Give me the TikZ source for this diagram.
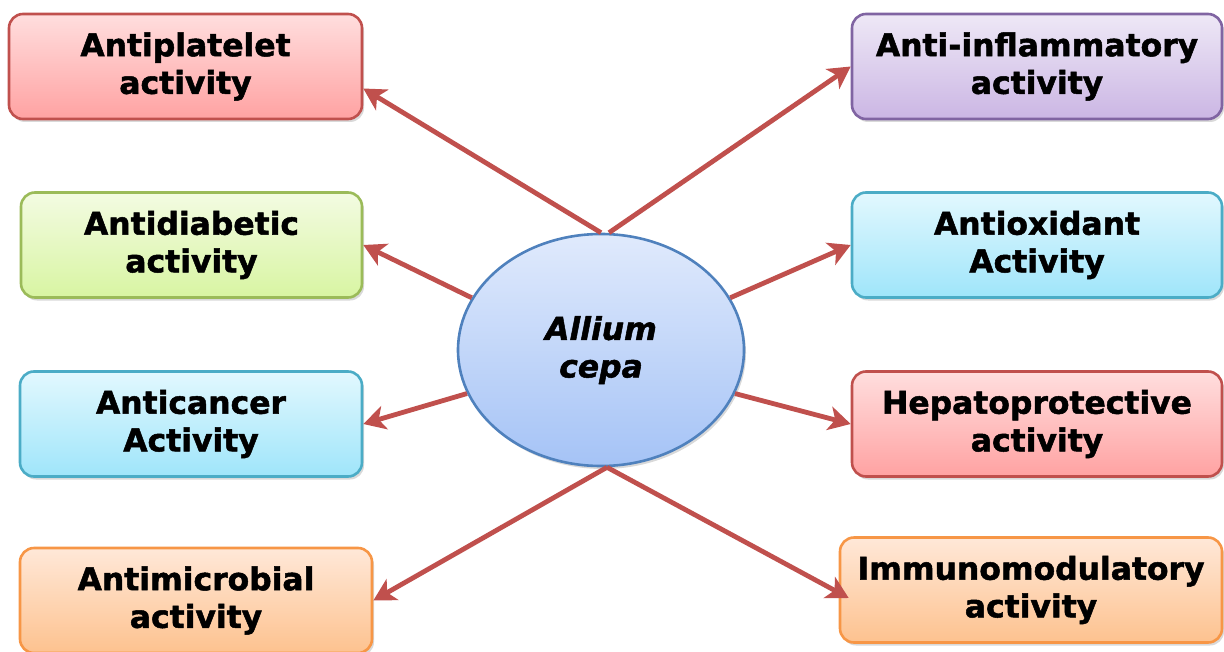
\documentclass[tikz,border=0pt]{standalone}
\usepackage{fontspec}
\setsansfont{DejaVu Sans}[BoldFeatures={FakeBold=1.6}, BoldItalicFeatures={FakeBold=1.6}]
\usepackage{tikz}
\usetikzlibrary{arrows.meta, shapes.geometric, shadows, calc}

\definecolor{redline}{HTML}{C0504D}
\definecolor{redtop}{HTML}{FFDEDE}
\definecolor{redbot}{HTML}{FFA2A2}
\definecolor{greenline}{HTML}{9BBB59}
\definecolor{greentop}{HTML}{F3FBE2}
\definecolor{greenbot}{HTML}{D8F5A2}
\definecolor{cyanline}{HTML}{4BACC6}
\definecolor{cyantop}{HTML}{E2F8FE}
\definecolor{cyanbot}{HTML}{9FE5FA}
\definecolor{purpleline}{HTML}{8064A2}
\definecolor{purpletop}{HTML}{EEE8F6}
\definecolor{purplebot}{HTML}{CBB6E4}
\definecolor{orangeline}{HTML}{F79646}
\definecolor{orangetop}{HTML}{FFE8D8}
\definecolor{orangebot}{HTML}{FDC28F}
\definecolor{blueline}{HTML}{4F81BD}
\definecolor{bluetop}{HTML}{E0EAFC}
\definecolor{bluebot}{HTML}{A5C3F6}

\begin{document}
\begin{tikzpicture}[x=0.5pt, y=-0.5pt,
  font=\sffamily\bfseries\fontsize{15.7}{18.8}\selectfont, >={Stealth[length=11pt, width=12pt, inset=3pt]},
  box/.style={draw, rounded corners=7pt, line width=1.3pt, align=center, minimum height=52.5pt,
    inner sep=2pt, drop shadow={shadow xshift=1pt, shadow yshift=-1.5pt, opacity=.3}},
  redbox/.style={box, draw=redline, top color=redtop, bottom color=redbot},
  greenbox/.style={box, draw=greenline, top color=greentop, bottom color=greenbot},
  cyanbox/.style={box, draw=cyanline, top color=cyantop, bottom color=cyanbot},
  purplebox/.style={box, draw=purpleline, top color=purpletop, bottom color=purplebot},
  orangebox/.style={box, draw=orangeline, top color=orangetop, bottom color=orangebot},
  link/.style={->, draw=redline, line width=2.4pt}]
\useasboundingbox (0,0) rectangle (1224,652);
\node[redbox,    minimum width=176.5pt] (antiplatelet)  at (185.5,66.5) {Antiplatelet\\activity};
\node[greenbox,  minimum width=170.5pt] (antidiabetic)  at (191.5,245) {Antidiabetic\\activity};
\node[cyanbox,   minimum width=171pt]   (anticancer)    at (191,424) {Anticancer\\Activity};
\node[orangebox, minimum width=176pt]   (antimicrobial) at (196,600.5) {Antimicrobial\\activity};
\node[purplebox, minimum width=185pt]   (antiinflam)    at (1037,66.5) {Anti-inflammatory\\activity};
\node[cyanbox,   minimum width=185pt]   (antioxidant)   at (1037,245) {Antioxidant\\Activity};
\node[redbox,    minimum width=185pt]   (hepato)        at (1037,424) {Hepatoprotective\\activity};
\node[orangebox, minimum width=191pt]   (immuno)        at (1031,590) {Immunomodulatory\\activity};
\node[ellipse, draw=blueline, line width=1.3pt, top color=bluetop, bottom color=bluebot,
  minimum width=143pt, minimum height=116pt, inner sep=0pt, align=center,
  font=\sffamily\bfseries\itshape\fontsize{15.7}{18.8}\selectfont,
  drop shadow={shadow xshift=1pt, shadow yshift=-1.5pt, opacity=.3}] (allium) at (601,350) {Allium\\cepa};
% arrows out of the bulb
\draw[link] (allium.north) -- ([yshift=-11pt]antiplatelet.east);
\draw[link] ([xshift=4pt]allium.north) -- (antiinflam.west);
\draw[link] (allium.158) -- (antidiabetic.east);
\draw[link] (allium.22) -- (antioxidant.west);
\draw[link] (allium.198) -- (anticancer.east);
\draw[link] (allium.-18) -- (hepato.west);
\draw[link] ([xshift=3pt]allium.south) -- (antimicrobial.east);
\draw[link] ([xshift=3pt]allium.south) -- ([shift={(5pt,-4pt)}]immuno.west);
\end{tikzpicture}
\end{document}
